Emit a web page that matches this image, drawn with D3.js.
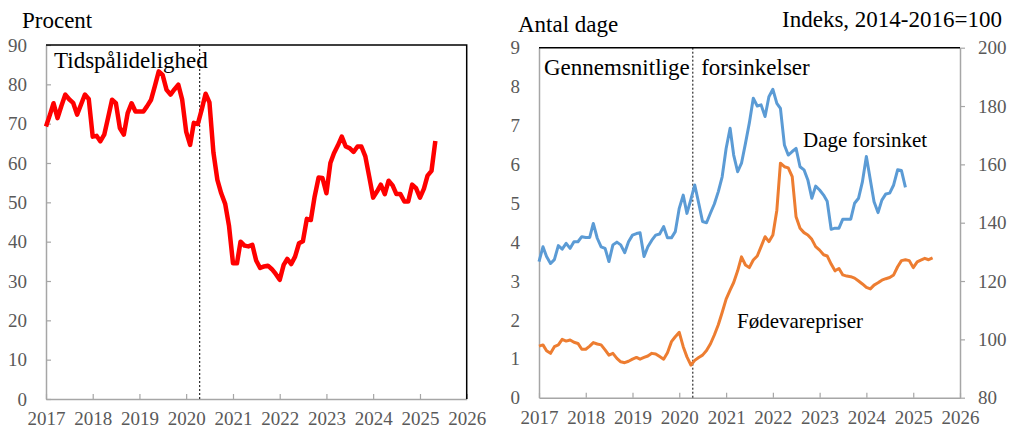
<!DOCTYPE html>
<html>
<head>
<meta charset="utf-8">
<script src="https://cdn.jsdelivr.net/npm/d3@7"></script>
<style>
body { margin: 0; background: #fff; }
svg text { font-family: "Liberation Serif", "Times New Roman", serif; }
</style>
</head>
<body>
<div id="chart"></div>
<script>
// monthly series, first value is January 2017
const startMonth = new Date(2017, 0, 1);

const tidspaalidelighed = [
    69.3, 72.3, 75.2, 71.4, 74.5, 77.4, 76.2, 75.3, 72.3, 74.8, 77.4, 76.3,
    66.7, 66.9, 65.5, 67.2, 71.5, 76.1, 75.2, 68.9, 67.2, 72.7, 75.2, 73.1,
    73.1, 73.1, 74.4, 76.0, 79.5, 83.3, 82.4, 78.6, 77.4, 78.7, 79.9, 76.1,
    68.0, 64.6, 70.2, 69.9, 73.5, 77.6, 75.4, 62.7, 55.7, 52.3, 49.6, 44.0,
    34.5, 34.5, 40.0, 39.0, 38.8, 39.2, 35.2, 33.3, 33.7, 33.9, 33.0, 31.8,
    30.3, 34.1, 35.6, 34.3, 36.2, 39.6, 40.1, 45.8, 45.5, 51.5, 56.3, 56.2,
    52.3, 60.0, 62.5, 64.5, 66.7, 64.2, 63.8, 62.8, 64.2, 64.2, 61.7, 56.6,
    51.2, 52.8, 54.5, 52.1, 55.5, 54.3, 52.1, 52.1, 50.2, 50.2, 54.5, 53.6,
    51.2, 53.5, 56.8, 58.0, 65.6
];

const dageForsinket = [
    3.50, 3.88, 3.63, 3.45, 3.55, 3.91, 3.82, 3.97, 3.84, 4.01, 4.01, 4.14,
    4.12, 4.12, 4.48, 4.10, 3.88, 3.84, 3.50, 3.93, 4.00, 3.93, 3.73, 4.01,
    4.18, 4.22, 4.24, 3.63, 3.88, 4.05, 4.18, 4.21, 4.40, 4.11, 4.11, 4.27,
    4.87, 5.21, 4.74, 5.10, 5.47, 5.00, 4.53, 4.50, 4.75, 4.98, 5.30, 5.68,
    6.41, 6.93, 6.24, 5.81, 6.03, 6.54, 7.06, 7.70, 7.50, 7.53, 7.23, 7.74,
    7.93, 7.57, 7.44, 6.50, 6.24, 6.33, 6.41, 5.94, 5.86, 5.60, 5.13, 5.44,
    5.34, 5.21, 5.05, 4.33, 4.36, 4.36, 4.59, 4.59, 4.59, 5.00, 5.13, 5.55,
    6.20, 5.60, 5.04, 4.76, 5.08, 5.24, 5.26, 5.47, 5.86, 5.84, 5.41
];

const foedevarepriser = [
    97.7, 98.1, 96.1, 95.2, 97.5, 98.1, 100.0, 99.4, 99.8, 99.0, 98.6, 96.6,
    96.6, 97.7, 98.9, 98.4, 98.1, 96.4, 94.6, 95.2, 93.5, 92.3, 92.0, 92.5,
    93.2, 93.8, 93.2, 93.8, 94.3, 95.2, 95.0, 94.1, 93.2, 95.4, 99.2, 100.9,
    102.4, 97.5, 94.0, 91.2, 92.8, 93.8, 94.6, 96.2, 98.5, 101.5, 105.0, 109.2,
    113.8, 116.9, 119.5, 123.5, 128.3, 125.5, 124.6, 127.2, 128.6, 131.8, 135.2, 133.5,
    135.8, 144.3, 160.4, 159.2, 158.8, 155.8, 142.0, 138.1, 136.6, 135.8, 134.3, 131.8,
    130.6, 129.0, 128.6, 125.8, 123.5, 124.3, 122.1, 121.7, 121.5, 121.0, 120.0, 119.0,
    117.8, 117.3, 118.6, 119.4, 120.3, 120.8, 121.2, 122.1, 124.9, 127.0, 127.3, 127.0,
    124.6, 126.6, 127.2, 127.8, 127.3, 127.9
];

const yearTicks = [2017, 2018, 2019, 2020, 2021, 2022, 2023, 2024, 2025, 2026];
const procentTicks = [0, 10, 20, 30, 40, 50, 60, 70, 80, 90];
const dageTicks = [0, 1, 2, 3, 4, 5, 6, 7, 8, 9];
const indeksTicks = [80, 100, 120, 140, 160, 180, 200];
const covidDate = new Date(2020, 3, 16);

const axisGrey = "#a6a6a6";
const labelGrey = "#595959";

function toPoints(arr) {
    return arr.map((v, i) => ({ date: d3.timeMonth.offset(startMonth, i), value: v }));
}

const svg = d3.select("#chart").append("svg")
    .attr("width", 1016)
    .attr("height", 429);

function styleAxis(g) {
    g.select(".domain").attr("stroke", axisGrey).attr("stroke-width", 1.5);
    g.selectAll(".tick line").attr("stroke", axisGrey).attr("stroke-width", 1.2);
    g.selectAll(".tick text")
        .attr("fill", labelGrey)
        .style("font-size", "19px")
        .style("font-family", "'Liberation Serif', 'Times New Roman', serif");
}

function xAxisFor(x) {
    return d3.axisBottom(x)
        .tickValues(yearTicks.map(y => new Date(y, 0, 1)))
        .tickFormat(d3.timeFormat("%Y"))
        .tickSizeInner(-5)
        .tickSizeOuter(0)
        .tickPadding(13);
}

function label(txt, x, y, anchor, size) {
    svg.append("text")
        .attr("x", x)
        .attr("y", y)
        .attr("text-anchor", anchor || "start")
        .style("font-size", (size || 23) + "px")
        .style("white-space", "pre")
        .attr("fill", "#000")
        .text(txt);
}

// ---------- left panel ----------
const L = { left: 46, right: 466.7, top: 45, bottom: 399 };

const xL = d3.scaleTime()
    .domain([new Date(2017, 0, 1), new Date(2026, 0, 1)])
    .range([L.left, L.right]);
const yL = d3.scaleLinear().domain([0, 90]).range([L.bottom, L.top]);

svg.append("g")
    .attr("transform", "translate(0," + L.bottom + ")")
    .call(xAxisFor(xL))
    .call(styleAxis);

svg.append("g")
    .attr("transform", "translate(" + L.left + ",0)")
    .call(d3.axisLeft(yL).tickValues(procentTicks).tickSizeInner(-5).tickSizeOuter(0).tickPadding(19))
    .call(styleAxis);

// frame top and right
svg.append("path")
    .attr("d", "M" + L.left + "," + L.top + "H" + L.right + "V" + L.bottom)
    .attr("fill", "none")
    .attr("stroke", "#000")
    .attr("stroke-width", 1.5);

svg.append("line")
    .attr("x1", xL(covidDate)).attr("x2", xL(covidDate))
    .attr("y1", L.top).attr("y2", L.bottom)
    .attr("stroke", "#000")
    .attr("stroke-width", 1)
    .attr("stroke-dasharray", "2,2");

svg.append("path")
    .datum(toPoints(tidspaalidelighed))
    .attr("fill", "none")
    .attr("stroke", "#ff0000")
    .attr("stroke-width", 4.5)
    .attr("stroke-linejoin", "round")
    .attr("d", d3.line().x(d => xL(d.date)).y(d => yL(d.value)));

label("Procent", 22, 28);
label("Tidspålidelighed", 54, 68);

// ---------- right panel ----------
const R = { left: 539, right: 960, top: 47.7, bottom: 397.7 };

const xR = d3.scaleTime()
    .domain([new Date(2017, 0, 1), new Date(2026, 0, 1)])
    .range([R.left, R.right]);
const yDage = d3.scaleLinear().domain([0, 9]).range([R.bottom, R.top]);
const yIndeks = d3.scaleLinear().domain([80, 200]).range([R.bottom, R.top]);

svg.append("g")
    .attr("transform", "translate(0," + R.bottom + ")")
    .call(xAxisFor(xR))
    .call(styleAxis);

svg.append("g")
    .attr("transform", "translate(" + R.left + ",0)")
    .call(d3.axisLeft(yDage).tickValues(dageTicks).tickSizeInner(0).tickSizeOuter(0).tickPadding(19))
    .call(styleAxis);

svg.append("g")
    .attr("transform", "translate(" + R.right + ",0)")
    .call(d3.axisRight(yIndeks).tickValues(indeksTicks).tickSizeInner(5).tickSizeOuter(0).tickPadding(13))
    .call(styleAxis);

svg.append("line")
    .attr("x1", R.left).attr("x2", R.right)
    .attr("y1", R.top).attr("y2", R.top)
    .attr("stroke", "#000")
    .attr("stroke-width", 1.5);

svg.append("line")
    .attr("x1", xR(covidDate)).attr("x2", xR(covidDate))
    .attr("y1", R.top).attr("y2", R.bottom)
    .attr("stroke", "#000")
    .attr("stroke-width", 1)
    .attr("stroke-dasharray", "2,2");

svg.append("path")
    .datum(toPoints(foedevarepriser))
    .attr("fill", "none")
    .attr("stroke", "#ed7d31")
    .attr("stroke-width", 3)
    .attr("stroke-linejoin", "round")
    .attr("d", d3.line().x(d => xR(d.date)).y(d => yIndeks(d.value)));

svg.append("path")
    .datum(toPoints(dageForsinket))
    .attr("fill", "none")
    .attr("stroke", "#5b9bd5")
    .attr("stroke-width", 3)
    .attr("stroke-linejoin", "round")
    .attr("d", d3.line().x(d => xR(d.date)).y(d => yDage(d.value)));

label("Antal dage", 518, 32);
label("Indeks, 2014-2016=100", 1002, 27, "end");
label("Gennemsnitlige  forsinkelser", 544, 75);
label("Dage forsinket", 803, 147, "start", 21);
label("Fødevarepriser", 737, 328, "start", 21);
</script>
</body>
</html>
